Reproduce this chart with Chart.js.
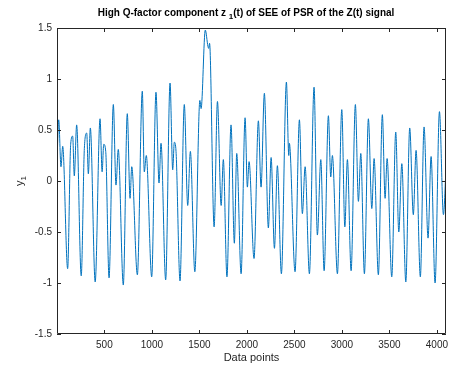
<!DOCTYPE html>
<html>
<head>
<meta charset="utf-8">
<title>High Q-factor component</title>
<script src="https://cdn.jsdelivr.net/npm/chart.js@4.4.1/dist/chart.umd.min.js"></script>
<style>
  body { margin: 0; background: #fff; }
  canvas { display: block; }
</style>
</head>
<body>
<canvas id="qChart" width="459" height="371"></canvas>
<script>
// sample index and amplitude of the turning points of z1(t)
const sampleIdx = [
  1, 19, 43, 61, 113, 145, 166, 183, 208, 256, 289, 314, 331, 352, 403, 454, 476, 493, 514, 549,
  594, 622, 646, 699, 741, 770, 788, 847, 899, 920, 941, 998, 1043, 1075, 1096, 1145, 1191, 1219, 1236, 1254,
  1296, 1341, 1377, 1405, 1452, 1505, 1518, 1562, 1590, 1598, 1607, 1655, 1690, 1729, 1752, 1790, 1833, 1868, 1893, 1939,
  1981, 2005, 2023, 2075, 2121, 2149, 2184, 2226, 2255, 2290, 2321, 2363, 2416, 2441, 2447, 2507, 2553, 2584, 2613, 2658,
  2707, 2742, 2778, 2813, 2858, 2883, 2900, 2953, 2999, 3031, 3058, 3097, 3142, 3174, 3199, 3237, 3279, 3315, 3339, 3384,
  3426, 3455, 3476, 3525, 3567, 3599, 3631, 3673, 3714, 3752, 3781, 3826, 3865, 3907, 3939, 3981, 4027, 4069, 4096
];
const z1 = [
  0.19, 0.60, 0.14, 0.34, -0.86, 0.36, 0.44, 0.05, 0.55, -0.93, 0.32, 0.47, 0.07, 0.52, -0.99, 0.61, 0.09, 0.36, 0.29, -0.95,
  0.75, -0.04, 0.31, -1.02, 0.66, -0.17, 0.14, -0.92, 0.88, 0.09, 0.25, -0.94, 0.87, -0.02, 0.37, -0.97, 0.96, 0.11, 0.38, 0.29,
  -0.98, 0.75, -0.24, 0.29, -0.89, 0.79, 0.71, 1.48, 1.32, 1.30, 1.35, -0.45, 0.78, -0.24, 0.21, -0.94, 0.55, -0.61, 0.27, -0.91,
  0.62, -0.06, 0.19, -0.76, 0.59, -0.06, 0.86, -0.46, 0.23, -0.66, 0.15, -0.91, 0.97, 0.25, 0.37, -0.89, 0.60, -0.32, 0.14, -0.91,
  0.92, -0.53, 0.21, -0.88, 0.64, 0.04, 0.25, -0.91, 0.70, -0.45, 0.21, -0.88, 0.75, -0.20, 0.27, -0.91, 0.61, -0.27, 0.22, -0.92,
  0.65, -0.17, 0.22, -0.94, 0.48, -0.50, 0.17, -0.99, 0.52, -0.33, 0.30, -0.94, 0.53, -0.56, 0.24, -1.00, 0.68, -0.33, 0.12
];
const xTicks = [500, 1000, 1500, 2000, 2500, 3000, 3500, 4000];
const yTicks = [-1.5, -1, -0.5, 0, 0.5, 1, 1.5];

const AXIS_COLOR = '#262626';
const FONT = 'Arial, "Liberation Sans", Helvetica, sans-serif';

// box, inward ticks on all four sides and the labels with subscripts
const matlabAxes = {
  id: 'matlabAxes',
  afterDraw(chart) {
    const ctx = chart.ctx;
    const area = chart.chartArea;
    const xs = chart.scales.x, ys = chart.scales.y;
    const tl = 4;
    ctx.save();
    ctx.strokeStyle = AXIS_COLOR;
    ctx.lineWidth = 1;
    ctx.beginPath();
    ctx.rect(area.left + 0.5, area.top + 0.5, area.right - area.left - 1, area.bottom - area.top - 1);
    xTicks.forEach(v => {
      const px = Math.round(xs.getPixelForValue(v)) + 0.5;
      ctx.moveTo(px, area.bottom); ctx.lineTo(px, area.bottom - tl);
      ctx.moveTo(px, area.top); ctx.lineTo(px, area.top + tl);
    });
    yTicks.forEach(v => {
      const py = Math.round(ys.getPixelForValue(v)) + 0.5;
      ctx.moveTo(area.left, py); ctx.lineTo(area.left + tl, py);
      ctx.moveTo(area.right, py); ctx.lineTo(area.right - tl, py);
    });
    ctx.stroke();

    // title with z_1 subscript
    ctx.fillStyle = '#000';
    ctx.textBaseline = 'alphabetic';
    ctx.textAlign = 'left';
    const big = 'bold 10px ' + FONT, small = 'bold 8px ' + FONT;
    const parts = [
      ['High Q-factor component z ', big, 0],
      ['1', small, 3],
      ['(t) of SEE of PSR of the Z(t) signal', big, 0]
    ];
    let w = 0;
    parts.forEach(p => { ctx.font = p[1]; w += ctx.measureText(p[0]).width; });
    let x = 246 - w / 2;
    parts.forEach(p => {
      ctx.font = p[1];
      ctx.fillText(p[0], x, 16 + p[2]);
      x += ctx.measureText(p[0]).width;
    });

    // x axis title
    ctx.fillStyle = AXIS_COLOR;
    ctx.font = '11px ' + FONT;
    ctx.textAlign = 'center';
    ctx.textBaseline = 'middle';
    ctx.fillText('Data points', (area.left + area.right) / 2, 358);

    // y axis title y_1
    ctx.translate(20, (area.top + area.bottom) / 2);
    ctx.rotate(-Math.PI / 2);
    ctx.textAlign = 'left';
    ctx.textBaseline = 'alphabetic';
    ctx.font = '11px ' + FONT;
    const yw = ctx.measureText('y').width;
    ctx.font = '8px ' + FONT;
    const sw = ctx.measureText('1').width;
    ctx.font = '11px ' + FONT;
    ctx.fillText('y', -(yw + sw) / 2, 3);
    ctx.font = '8px ' + FONT;
    ctx.fillText('1', -(yw + sw) / 2 + yw, 6);
    ctx.restore();
  }
};

new Chart(document.getElementById('qChart'), {
  type: 'line',
  data: {
    datasets: [{
      data: sampleIdx.map((s, i) => ({ x: s, y: z1[i] })),
      borderColor: '#0072BD',
      borderWidth: 1,
      pointRadius: 0,
      cubicInterpolationMode: 'monotone',
      fill: false
    }]
  },
  options: {
    responsive: false,
    animation: false,
    layout: { padding: { top: 28, right: 13, left: 0, bottom: 0 } },
    plugins: { legend: { display: false }, title: { display: false }, tooltip: { enabled: false } },
    scales: {
      x: {
        type: 'linear',
        min: 1,
        max: 4096,
        afterBuildTicks: s => { s.ticks = xTicks.map(v => ({ value: v })); },
        afterFit: s => { s.height = 37; },
        grid: { display: false, drawTicks: false },
        border: { display: false },
        ticks: { color: AXIS_COLOR, font: { size: 10, family: FONT }, padding: 5, maxRotation: 0, callback: v => String(v) }
      },
      y: {
        min: -1.5,
        max: 1.5,
        afterBuildTicks: s => { s.ticks = yTicks.map(v => ({ value: v })); },
        afterFit: s => { s.width = 57; },
        grid: { display: false, drawTicks: false },
        border: { display: false },
        ticks: { color: AXIS_COLOR, font: { size: 10, family: FONT }, padding: 5, callback: v => String(v) }
      }
    }
  },
  plugins: [matlabAxes]
});
</script>
</body>
</html>
